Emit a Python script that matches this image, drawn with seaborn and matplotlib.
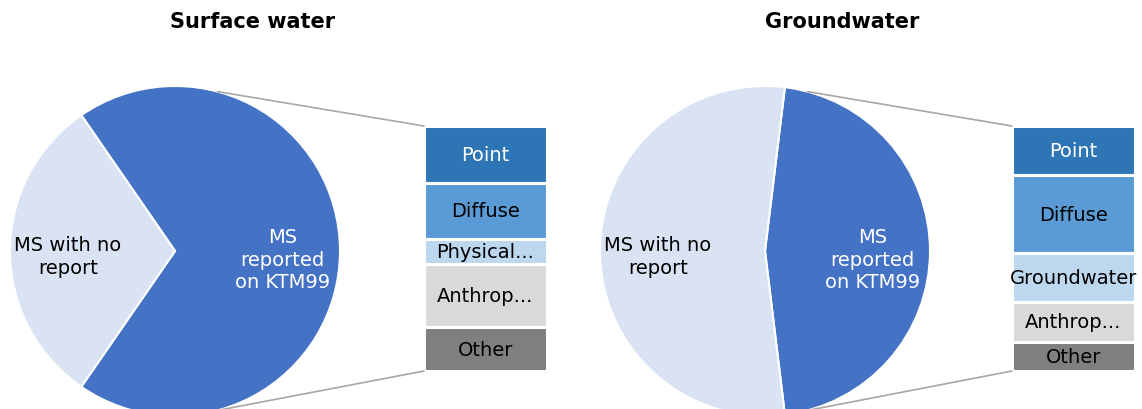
import matplotlib
matplotlib.use("Agg")
import matplotlib.pyplot as plt
from matplotlib.patches import ConnectionPatch
import numpy as np
import seaborn as sns

# data
titulos = ["Surface water", "Groundwater"]
pie_labels = ["MS\nreported\non KTM99", "MS with no\nreport"]
sw_pie = [18, 8]
gw_pie = [12, 14]

sw_cats = ["Point", "Diffuse", "Physical...", "Anthrop...", "Other"]
sw_vals = [9, 9, 4, 10, 7]
gw_cats = ["Point", "Diffuse", "Groundwater", "Anthrop...", "Other"]
gw_vals = [5, 8, 5, 4, 3]

sns.set_theme(style="white")
plt.rcParams["font.family"] = ["DejaVu Sans"]

pie_cores = ["#4472C4", "#DAE3F3"]
bar_cores = ["#2E75B6", "#5B9BD5", "#BDD7EE", "#D9D9D9", "#7F7F7F"]
bar_texto = ["white", "black", "black", "black", "black"]

W, H = 1142, 410
fig = plt.figure(figsize=(W / 100, H / 100), dpi=100)


def px(x0, y0, x1, y1):
    # converte caixa em pixels (topo-esquerda) para coordenadas da figura
    return [x0 / W, 1 - y1 / H, (x1 - x0) / W, (y1 - y0) / H]


def painel(cx, bar_x0, pie_vals, cats, vals, titulo, tx):
    r = 165
    cy = 252
    ax_pie = fig.add_axes(px(cx - r, cy - r, cx + r, cy + r))
    frac = pie_vals[0] / sum(pie_vals)
    start = -frac * 360 / 2
    wedges, _ = ax_pie.pie(
        pie_vals, colors=pie_cores, startangle=start, counterclock=True,
        wedgeprops={"edgecolor": "white", "linewidth": 1.5},
    )
    for w in wedges:
        w.set_clip_on(False)
    ax_pie.set_xlim(-1, 1)
    ax_pie.set_ylim(-1, 1)
    ax_pie.set_aspect("equal")
    ax_pie.axis("off")

    # rótulos das fatias
    ax_pie.text(0.65, -0.05, pie_labels[0], color="white",
                ha="center", va="center", fontsize=14, linespacing=1.25)
    ax_pie.text(-0.65, -0.03, pie_labels[1], color="black",
                ha="center", va="center", fontsize=14, linespacing=1.25)

    ax_bar = fig.add_axes(px(bar_x0, 127, bar_x0 + 123, 372))
    total = sum(vals)
    base = 0
    for cat, v, cor, tc in zip(cats, vals, bar_cores, bar_texto):
        ax_bar.bar(0, v, bottom=base, width=1, color=cor, edgecolor="white", linewidth=2.2)
        ax_bar.text(0, base + v / 2, cat, ha="center", va="center", fontsize=14, color=tc, clip_on=False)
        base += v
    ax_bar.set_xlim(-0.5, 0.5)
    ax_bar.set_ylim(total, 0)
    ax_bar.axis("off")

    # linhas de ligação pizza -> barra
    theta = np.deg2rad(75)
    for sy, by in [(1, 0), (-1, total)]:
        con = ConnectionPatch(
            xyA=(np.cos(theta), sy * np.sin(theta)), coordsA=ax_pie.transData,
            xyB=(-0.5, by), coordsB=ax_bar.transData,
            color="#A6A6A6", linewidth=1.2,
        )
        fig.add_artist(con)

    fig.text(tx / W, 1 - 22 / H, titulo, ha="center", va="center",
             fontsize=15, fontweight="bold", color="black")


painel(175, 424, sw_pie, sw_cats, sw_vals, titulos[0], 253)
painel(765, 1012, gw_pie, gw_cats, gw_vals, titulos[1], 842)

fig.savefig("out.png", dpi=100)
